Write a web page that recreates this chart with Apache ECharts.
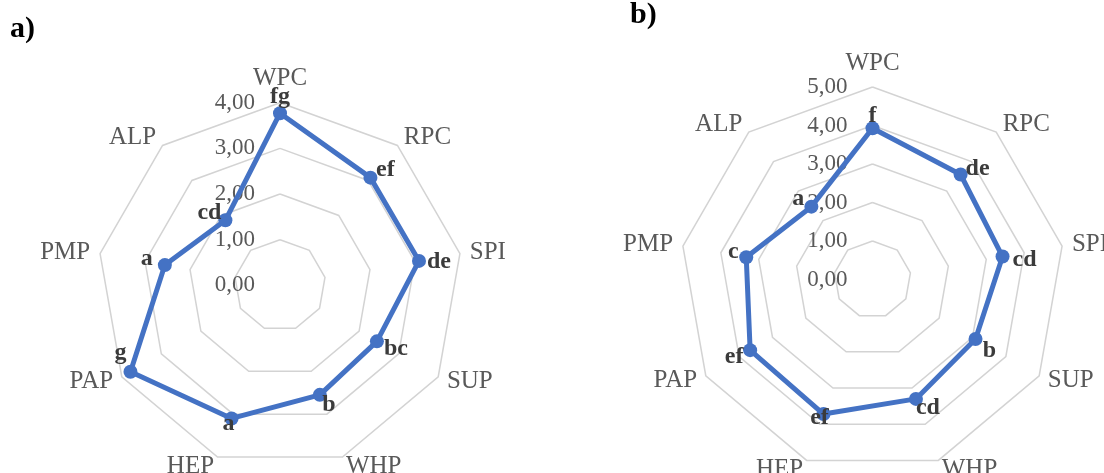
<!DOCTYPE html>
<html>
<head>
<meta charset="utf-8">
<script src="https://cdn.jsdelivr.net/npm/echarts@6/dist/echarts.min.js"></script>
<style>
  html, body { margin: 0; padding: 0; background: #ffffff; }
  #chart { width: 1104px; height: 473px; }
</style>
</head>
<body>
<div id="chart"></div>
<script>
// ---- data ----
const categories = ['WPC', 'RPC', 'SPI', 'SUP', 'WHP', 'HEP', 'PAP', 'PMP', 'ALP'];
const valuesA = [3.77, 3.08, 3.09, 2.45, 2.55, 3.10, 3.78, 2.56, 1.86];
const lettersA = ['fg', 'ef', 'de', 'bc', 'b', 'a', 'g', 'a', 'cd'];
const valuesB = [3.93, 3.56, 3.43, 3.09, 3.30, 3.72, 3.67, 3.33, 2.47];
const lettersB = ['f', 'de', 'cd', 'b', 'cd', 'ef', 'ef', 'c', 'a'];
const ticksA = ['0,00', '1,00', '2,00', '3,00', '4,00'];
const ticksB = ['0,00', '1,00', '2,00', '3,00', '4,00', '5,00'];
const panelTitles = ['a)', 'b)'];

// ---- layout / style (not data) ----
const offsetsA = [[0, -16], [15, -8], [20, 1], [19, 7], [9, 10], [-3, 5], [-10, -19], [-18, -6], [-16, -8]];
const offsetsB = [[0, -12], [17, -6], [22, 3], [14, 12], [12, 9], [-4, 4], [-16, 7], [-13, -5], [-13, -8]];
const SERIF = '"Liberation Serif", "DejaVu Serif", serif';
const BLUE = '#4472C4';

// ECharts lays indicators counter-clockwise; the reference runs clockwise.
const order = categories.map((_, i) => (i === 0 ? 0 : categories.length - i));
const reorder = arr => order.map(i => arr[i]);

function makeRadar(center, radius, maxVal, ticks) {
  return {
    center: center,
    radius: radius,
    startAngle: 90,
    shape: 'polygon',
    splitNumber: ticks.length - 1,
    axisNameGap: 10,
    axisName: { color: '#595959', fontSize: 25, fontFamily: SERIF },
    axisLine: { show: false },
    axisTick: { show: false },
    splitArea: { show: false },
    splitLine: { lineStyle: { color: '#d3d3d3', width: 1.5 } },
    indicator: reorder(categories).map((name, i) => {
      const ind = { name: name, min: 0, max: maxVal };
      if (i === 0) {
        ind.axisLabel = {
          show: true,
          margin: 25,
          color: '#595959',
          fontSize: 23,
          fontFamily: SERIF,
          formatter: (v, idx) => ticks[idx]
        };
      }
      return ind;
    })
  };
}

function makeSeries(radarIndex, values, letters, offsets) {
  const vals = reorder(values);
  const data = [{
    value: vals,
    name: 'main',
    symbol: 'circle',
    symbolSize: 14,
    lineStyle: { color: BLUE, width: 5 },
    itemStyle: { color: BLUE, borderWidth: 0 },
    label: { show: false }
  }];
  categories.forEach((cat, k) => {
    data.push({
      value: vals,
      name: cat,
      symbol: 'circle',
      symbolSize: 1,
      lineStyle: { opacity: 0, width: 0 },
      itemStyle: { color: 'rgba(0,0,0,0)', borderWidth: 0 },
      label: {
        show: true,
        position: 'inside',
        offset: offsets[k],
        color: '#3b3b3b',
        fontSize: 24,
        fontWeight: 'bold',
        fontFamily: SERIF,
        formatter: p => (p.value === values[k] ? letters[k] : '')
      }
    });
  });
  return {
    type: 'radar',
    radarIndex: radarIndex,
    silent: true,
    animation: false,
    emphasis: { disabled: true },
    data: data
  };
}

const chart = echarts.init(document.getElementById('chart'), null, { renderer: 'canvas' });
chart.setOption({
  backgroundColor: '#ffffff',
  animation: false,
  title: [
    { text: panelTitles[0], left: 10, top: 14, padding: 0,
      textStyle: { fontFamily: SERIF, fontSize: 30, fontWeight: 'bold', color: '#000' } },
    { text: panelTitles[1], left: 630, top: 0, padding: 0,
      textStyle: { fontFamily: SERIF, fontSize: 30, fontWeight: 'bold', color: '#000' } }
  ],
  radar: [
    makeRadar([280, 285.4], 182.7, 4, ticksA),
    makeRadar([872.5, 279.5], 192.5, 5, ticksB)
  ],
  series: [
    makeSeries(0, valuesA, lettersA, offsetsA),
    makeSeries(1, valuesB, lettersB, offsetsB)
  ]
});
</script>
</body>
</html>
